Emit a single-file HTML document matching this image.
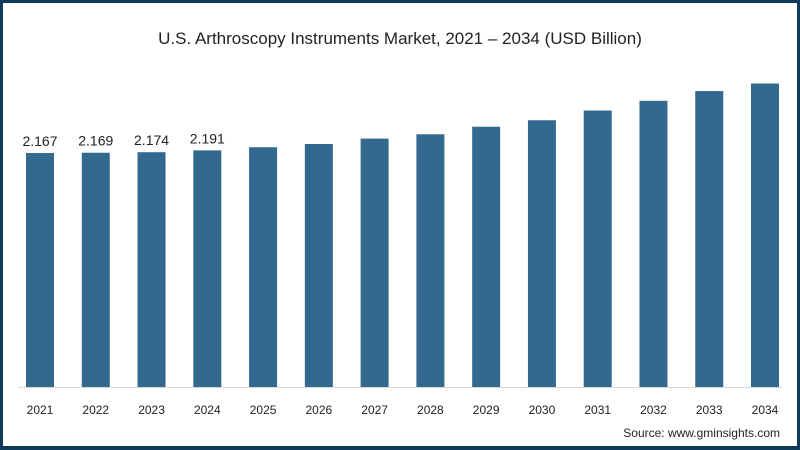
<!DOCTYPE html>
<html><head><meta charset="utf-8"><style>
body{margin:0;background:#fff;}
#wrap{width:800px;height:450px;box-sizing:border-box;border:3px solid #0f3b5a;border-bottom-width:4px;position:relative;overflow:hidden;background:#fff;font-family:"Liberation Sans",sans-serif;}
</style></head><body>
<div id="wrap">
<svg id="chart" width="794" height="443" style="position:absolute;left:0;top:0">
<text x="397" y="41" text-anchor="middle" font-size="17" fill="#222">U.S. Arthroscopy Instruments Market, 2021 – 2034 (USD Billion)</text>
<line x1="15" y1="384.5" x2="779" y2="384.5" stroke="#d8d8d8" stroke-width="1"/>
<g id="bars"></g>
<text x="777" y="434" text-anchor="end" font-size="12" fill="#222">Source: www.gminsights.com</text>
</svg>
</div>
<script>
const years=["2021","2022","2023","2024","2025","2026","2027","2028","2029","2030","2031","2032","2033","2034"];
const values=[2.167,2.169,2.174,2.191,2.22,2.25,2.30,2.34,2.41,2.47,2.56,2.65,2.74,2.81];
const labels=["2.167","2.169","2.174","2.191","","","","","","","","","",""];
const baseY=384, pxPerUnit=108, x0=37, step=55.77, bw=28;
function xPos(i){return x0+i*step;}
function yPos(v){return baseY-v*pxPerUnit;}
const g=document.getElementById('bars');
const ns="http://www.w3.org/2000/svg";
years.forEach((yr,i)=>{
  const r=document.createElementNS(ns,'rect');
  
  
  r.setAttribute('x',xPos(i)-bw/2);r.setAttribute('y',yPos(values[i]));
  r.setAttribute('width',bw);r.setAttribute('height',baseY-yPos(values[i]));
  r.setAttribute('fill','#33698e');g.appendChild(r);
  const t=document.createElementNS(ns,'text');
  
  
  t.setAttribute('x',xPos(i));t.setAttribute('y',411);t.setAttribute('text-anchor','middle');
  t.setAttribute('font-size','12');t.setAttribute('fill','#222');t.textContent=yr;g.appendChild(t);
  if(labels[i]){
    const l=document.createElementNS(ns,'text');
    
    
    l.setAttribute('x',xPos(i));l.setAttribute('y',yPos(values[i])-7);l.setAttribute('text-anchor','middle');
    l.setAttribute('font-size','14');l.setAttribute('fill','#222');l.textContent=labels[i];g.appendChild(l);
  }
});
</script>
</body></html>
